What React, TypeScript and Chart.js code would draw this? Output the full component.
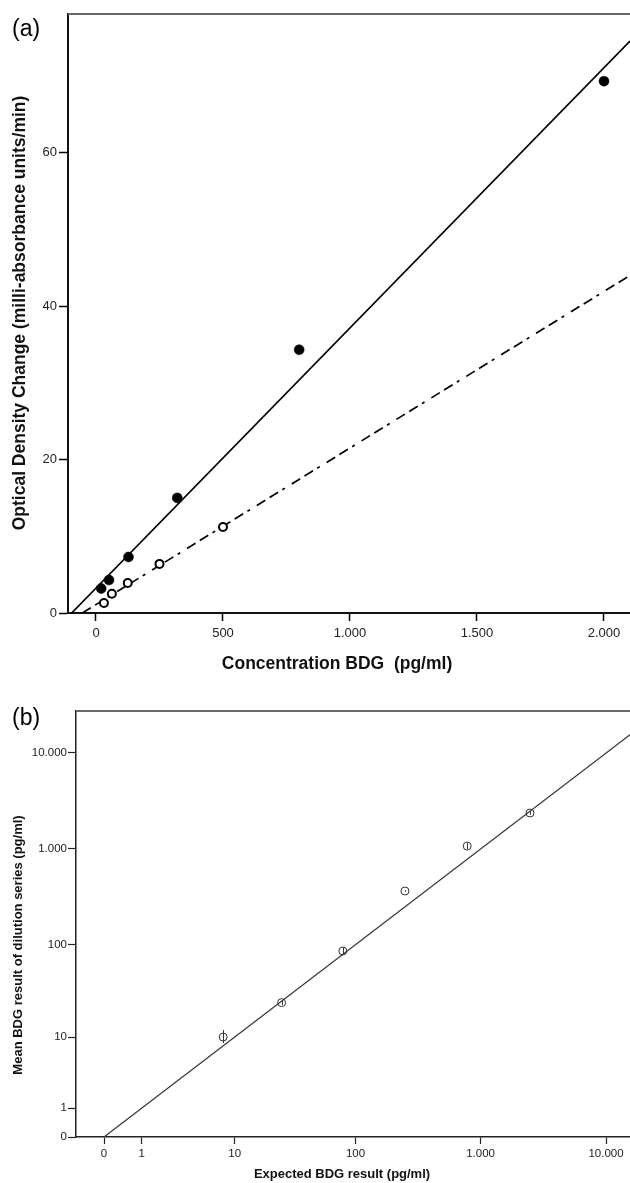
import React, { useEffect, useRef } from "react";
import { Chart, registerables } from "chart.js";

Chart.register(...registerables);

// ---------- Panel (a) data ----------
const A_FILLED_X = [20.48, 51.2, 128, 320, 800, 2000];
const A_FILLED_Y = [3.2, 4.3, 7.3, 15.0, 34.3, 69.3];
const A_OPEN_X = [31.25, 62.5, 125, 250, 500];
const A_OPEN_Y = [1.3, 2.5, 3.9, 6.4, 11.2];
const A_FIT_SOLID = { slope: 0.0339, intercept: 3.25 };
const A_FIT_DASHED = { slope: 0.0204, intercept: 1.1 };
const A_X_TICKS = [0, 500, 1000, 1500, 2000];
const A_X_TICK_LABELS = ["0", "500", "1.000", "1.500", "2.000"];
const A_Y_TICKS = [0, 20, 40, 60];
const A_Y_TICK_LABELS = ["0", "20", "40", "60"];
const A_X_RANGE = [-110.2, 2102.4];
const A_Y_RANGE = [0, 78.05];
const A_X_TITLE = "Concentration BDG  (pg/ml)";
const A_Y_TITLE = "Optical Density Change (milli-absorbance units/min)";
const A_LABEL = "(a)";

// ---------- Panel (b) data ----------
const B_X = [7.9, 25, 79, 249, 782, 2478];
const B_Y = [10.0, 24.1, 85.6, 364, 1072, 2370];
const B_Y_LOW = [8.5, 22.8, 79, 358, 1000, 2270];
const B_Y_HIGH = [12.0, 25.5, 93, 371, 1150, 2470];
const B_TICKS = [0, 1, 10, 100, 1000, 10000];
const B_TICK_LABELS = ["0", "1", "10", "100", "1.000", "10.000"];
const B_IDENTITY_X = [0, 30000];
const B_X_RANGE_LOG = [-0.2231, 4.191];
const B_Y_RANGE_LOG = [0, 4.4375];
const B_X_TITLE = "Expected BDG result (pg/ml)";
const B_Y_TITLE = "Mean BDG result of dilution series (pg/ml)";
const B_LABEL = "(b)";

const FONT = "'Liberation Sans', Arial, Helvetica, sans-serif";
const slog = (v: number) => Math.log10(v + 1);

function fitLine(fit: { slope: number; intercept: number }, xmin: number, xmax: number) {
  const x0 = Math.max(xmin, -fit.intercept / fit.slope);
  return [x0, xmax].map((x) => ({ x, y: fit.slope * x + fit.intercept }));
}

type Deco = {
  label: string;
  labelPos: [number, number];
  labelSize: number;
  xTitle: string;
  xTitlePos: [number, number];
  yTitle: string;
  yTitlePos: [number, number];
  titleSize: number;
  frameColor: string;
};

function decoPlugin(d: Deco) {
  return {
    id: "deco",
    afterDraw(chart: any) {
      const { ctx, chartArea: ca } = chart;
      ctx.save();
      // top frame line
      ctx.strokeStyle = d.frameColor;
      ctx.lineWidth = 2;
      ctx.beginPath();
      ctx.moveTo(ca.left, ca.top);
      ctx.lineTo(ca.right, ca.top);
      ctx.stroke();
      // panel label
      ctx.fillStyle = "#000";
      ctx.font = `${d.labelSize}px ${FONT}`;
      ctx.textAlign = "left";
      ctx.textBaseline = "middle";
      ctx.fillText(d.label, d.labelPos[0], d.labelPos[1]);
      // x title
      ctx.font = `bold ${d.titleSize}px ${FONT}`;
      ctx.textAlign = "center";
      ctx.textBaseline = "middle";
      ctx.fillStyle = "#111";
      ctx.fillText(d.xTitle, d.xTitlePos[0], d.xTitlePos[1]);
      // y title
      ctx.translate(d.yTitlePos[0], d.yTitlePos[1]);
      ctx.rotate(-Math.PI / 2);
      ctx.fillText(d.yTitle, 0, 0);
      ctx.restore();
    },
  };
}

const errorBarPlugin = {
  id: "errbars",
  afterDatasetsDraw(chart: any) {
    const { ctx } = chart;
    const xs = chart.scales.x;
    const ys = chart.scales.y;
    ctx.save();
    ctx.strokeStyle = "#333";
    ctx.lineWidth = 1;
    B_X.forEach((x, i) => {
      const px = Math.round(xs.getPixelForValue(slog(x))) + 0.5;
      ctx.beginPath();
      ctx.moveTo(px, ys.getPixelForValue(slog(B_Y_LOW[i])));
      ctx.lineTo(px, ys.getPixelForValue(slog(B_Y_HIGH[i])));
      ctx.stroke();
    });
    ctx.restore();
  },
};

export default function App() {
  const refA = useRef<HTMLCanvasElement>(null);
  const refB = useRef<HTMLCanvasElement>(null);

  useEffect(() => {
    const chartA = new Chart(refA.current!, {
      type: "scatter",
      data: {
        datasets: [
          {
            type: "line",
            data: fitLine(A_FIT_SOLID, A_X_RANGE[0], A_X_RANGE[1]),
            borderColor: "#000",
            borderWidth: 1.7,
            pointRadius: 0,
            fill: false,
            order: 3,
          } as any,
          {
            type: "line",
            data: fitLine(A_FIT_DASHED, A_X_RANGE[0], A_X_RANGE[1]),
            borderColor: "#000",
            borderWidth: 1.7,
            borderDash: [10, 5, 10, 5, 3, 8],
            pointRadius: 0,
            fill: false,
            order: 3,
          } as any,
          {
            data: A_FILLED_X.map((x, i) => ({ x, y: A_FILLED_Y[i] })),
            pointRadius: 5,
            pointBackgroundColor: "#000",
            pointBorderColor: "#000",
            pointBorderWidth: 0.5,
            order: 1,
          },
          {
            data: A_OPEN_X.map((x, i) => ({ x, y: A_OPEN_Y[i] })),
            pointRadius: 4,
            pointBackgroundColor: "#fff",
            pointBorderColor: "#000",
            pointBorderWidth: 2,
            order: 1,
          },
        ],
      },
      options: {
        animation: false,
        responsive: false,
        devicePixelRatio: 1,
        events: [],
        layout: { autoPadding: false, padding: { top: 14, left: 0, right: 0, bottom: 0 } },
        plugins: { legend: { display: false }, tooltip: { enabled: false } },
        scales: {
          x: {
            type: "linear",
            min: A_X_RANGE[0],
            max: A_X_RANGE[1],
            afterBuildTicks: (s: any) => {
              s.ticks = A_X_TICKS.map((v) => ({ value: v }));
            },
            afterFit: (s: any) => {
              s.height = 67;
            },
            ticks: {
              callback: (v: any) => A_X_TICK_LABELS[A_X_TICKS.indexOf(v)],
              font: { family: FONT, size: 13 },
              color: "#222",
              padding: 5,
              maxRotation: 0,
              autoSkip: false,
            },
            grid: {
              display: true,
              drawOnChartArea: false,
              drawTicks: true,
              tickLength: 8,
              tickColor: "#000",
              tickWidth: 1.5,
            },
            border: { display: true, color: "#111", width: 2 },
          },
          y: {
            type: "linear",
            min: A_Y_RANGE[0],
            max: A_Y_RANGE[1],
            afterBuildTicks: (s: any) => {
              s.ticks = A_Y_TICKS.map((v) => ({ value: v }));
            },
            afterFit: (s: any) => {
              s.width = 68;
            },
            ticks: {
              callback: (v: any) => A_Y_TICK_LABELS[A_Y_TICKS.indexOf(v)],
              font: { family: FONT, size: 13 },
              color: "#222",
              padding: 2,
              autoSkip: false,
            },
            grid: {
              display: true,
              drawOnChartArea: false,
              drawTicks: true,
              tickLength: 9,
              tickColor: "#000",
              tickWidth: 1.5,
            },
            border: { display: true, color: "#111", width: 2 },
          },
        },
      } as any,
      plugins: [
        decoPlugin({
          label: A_LABEL,
          labelPos: [12, 30],
          labelSize: 23,
          xTitle: A_X_TITLE,
          xTitlePos: [337, 664],
          yTitle: A_Y_TITLE,
          yTitlePos: [20, 313],
          titleSize: 17.5,
          frameColor: "#6a6a6a",
        }),
      ],
    });

    const chartB = new Chart(refB.current!, {
      type: "scatter",
      data: {
        datasets: [
          {
            type: "line",
            data: B_IDENTITY_X.map((v) => ({ x: slog(v), y: slog(v) })),
            borderColor: "#333",
            borderWidth: 1.2,
            pointRadius: 0,
            fill: false,
            order: 3,
          } as any,
          {
            data: B_X.map((x, i) => ({ x: slog(x), y: slog(B_Y[i]) })),
            pointRadius: 4,
            pointBackgroundColor: "rgba(255,255,255,0)",
            pointBorderColor: "#333",
            pointBorderWidth: 1,
            order: 1,
          },
        ],
      },
      options: {
        animation: false,
        responsive: false,
        devicePixelRatio: 1,
        events: [],
        layout: { autoPadding: false, padding: { top: 31, left: 0, right: 0, bottom: 0 } },
        plugins: { legend: { display: false }, tooltip: { enabled: false } },
        scales: {
          x: {
            type: "linear",
            min: B_X_RANGE_LOG[0],
            max: B_X_RANGE_LOG[1],
            afterBuildTicks: (s: any) => {
              s.ticks = B_TICKS.map((v) => ({ value: slog(v) }));
            },
            afterFit: (s: any) => {
              s.height = 46;
            },
            ticks: {
              callback: (_v: any, i: number) => B_TICK_LABELS[i],
              font: { family: FONT, size: 11.5 },
              color: "#222",
              padding: 3,
              maxRotation: 0,
              autoSkip: false,
            },
            grid: {
              display: true,
              drawOnChartArea: false,
              drawTicks: true,
              tickLength: 7,
              tickColor: "#222",
              tickWidth: 1.2,
            },
            border: { display: true, color: "#222", width: 1.5 },
          },
          y: {
            type: "linear",
            min: B_Y_RANGE_LOG[0],
            max: B_Y_RANGE_LOG[1],
            afterBuildTicks: (s: any) => {
              s.ticks = B_TICKS.map((v) => ({ value: slog(v) }));
            },
            afterFit: (s: any) => {
              s.width = 76;
            },
            ticks: {
              callback: (_v: any, i: number) => B_TICK_LABELS[i],
              font: { family: FONT, size: 11.5 },
              color: "#222",
              padding: 1,
              autoSkip: false,
            },
            grid: {
              display: true,
              drawOnChartArea: false,
              drawTicks: true,
              tickLength: 8,
              tickColor: "#222",
              tickWidth: 1.2,
            },
            border: { display: true, color: "#222", width: 1.5 },
          },
        },
      } as any,
      plugins: [
        errorBarPlugin,
        decoPlugin({
          label: B_LABEL,
          labelPos: [12, 39],
          labelSize: 23,
          xTitle: B_X_TITLE,
          xTitlePos: [342, 494],
          yTitle: B_Y_TITLE,
          yTitlePos: [18, 265],
          titleSize: 13,
          frameColor: "#6a6a6a",
        }),
      ],
    });

    return () => {
      chartA.destroy();
      chartB.destroy();
    };
  }, []);

  return (
    <div
      style={{
        position: "absolute",
        left: 0,
        top: 0,
        width: 630,
        height: 1183,
        background: "#fff",
        overflow: "hidden",
      }}
    >
      <canvas
        ref={refA}
        width={630}
        height={680}
        style={{ position: "absolute", left: 0, top: 0, width: 630, height: 680 }}
      />
      <canvas
        ref={refB}
        width={630}
        height={503}
        style={{ position: "absolute", left: 0, top: 680, width: 630, height: 503 }}
      />
    </div>
  );
}
